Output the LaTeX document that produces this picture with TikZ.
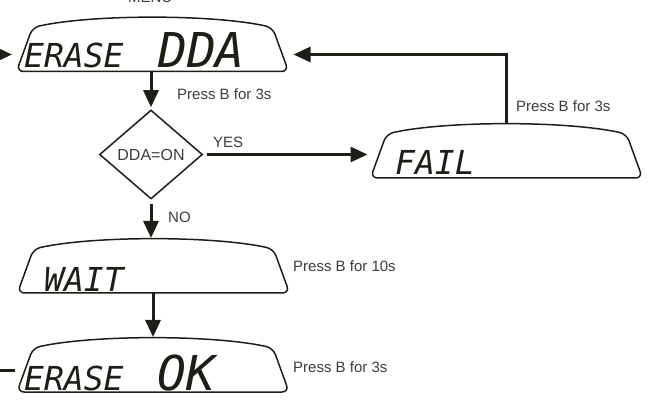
\documentclass[tikz,border=0pt]{standalone}
\usepackage{fontspec}
\setmainfont{Liberation Sans}
\newfontfamily\lcdfont{DejaVu Sans Mono}
\usetikzlibrary{arrows.meta,calc,shapes.geometric}
\definecolor{lcdink}{HTML}{1E1E16}
\definecolor{lblgray}{HTML}{3C3C3C}
\begin{document}
\begin{tikzpicture}[x=1pt,y=-1pt,
  conn/.style={line width=3pt, draw=lcdink, -{Triangle[length=17pt,width=15pt]}},
  lcdline/.style={line width=1.5pt, draw=lcdink, rounded corners=7pt},
  lcdbox/.style={draw=none, minimum width=272pt, minimum height=54pt, inner sep=0pt, outer sep=0pt},
  lbl/.style={font=\fontsize{15}{18}\selectfont, text=lblgray, inner sep=0pt, anchor=base west},
  lcdtxt/.style={text=lcdink, inner sep=0pt, anchor=base west},
  lcdsmall/.style={lcdtxt, font=\lcdfont\itshape\fontsize{33}{36}\selectfont},
  lcdbig/.style={lcdtxt, font=\lcdfont\itshape\fontsize{48}{52}\selectfont}]
\clip (0,0) rectangle (661,411);
% display frames
\node[lcdbox] (dda) at (152.5,44.5) {};
\node[lcdbox] (fail) at (506.5,151) {};
\node[lcdbox] (wait) at (153.5,266) {};
\node[lcdbox] (ok) at (153,365) {};
\foreach \n in {dda,fail,wait,ok}{
  \draw[lcdline] (\n.south) -- (\n.south west) -- ($(\n.north west)+(16,10)$)
    .. controls ($(\n.north west)+(76,-3.3)$) and ($(\n.north east)+(-76,-3.3)$) ..
    ($(\n.north east)+(-16,10)$) -- (\n.south east) -- cycle;
}
% decision
\node[draw=lcdink, line width=1.5pt, shape=diamond, minimum width=103pt, minimum height=89pt,
  inner sep=0pt, font=\fontsize{16}{19}\selectfont, text=lblgray] (dec) at (151,154.5) {DDA=ON};
% display texts
\node[lcdsmall] (t1) at (24,68) {ERASE};
\node[lcdbig] (t2) at (158,68) {DDA};
\node[lcdsmall] (t3) at (395,175) {FAIL};
\node[lcdsmall] (t4) at (44,292) {WAIT};
\node[lcdsmall] (t5) at (24,390) {ERASE};
\node[lcdbig] (t6) at (157,390) {OK};
% labels
\node[lbl] (menu) at (128,3) {MENU};
\node[lbl] (p1) at (177,100) {Press B for 3s};
\node[lbl] (yes) at (213,148) {YES};
\node[lbl] (no) at (168,223) {NO};
\node[lbl] (p2) at (516,112) {Press B for 3s};
\node[lbl] (p3) at (293,272) {Press B for 10s};
\node[lbl] (p4) at (293,372) {Press B for 3s};
% connectors
\coordinate (ddaR) at ($(dda.east)+(5,10)$);
\coordinate (ddaL) at ($(dda.west)+(-4.5,10)$);
\coordinate (okL) at ($(ok.west)+(-2,5)$);
\draw[conn, shorten >=2pt] (dec.north |- dda.south) -- (dec.north);
\draw[conn, shorten <=4pt, shorten >=3pt] (dec.east) -- (dec.east -| fail.west);
\draw[conn] (fail.north) |- (ddaR);
\draw[conn, shorten <=4pt, shorten >=1pt] (dec.south) -- (dec.south |- wait.north);
\draw[conn, shorten >=1pt] (ok.north |- wait.south) -- (ok.north);
\draw[conn] (okL) -- ++(-40,0) |- (ddaL);
\end{tikzpicture}
\end{document}
